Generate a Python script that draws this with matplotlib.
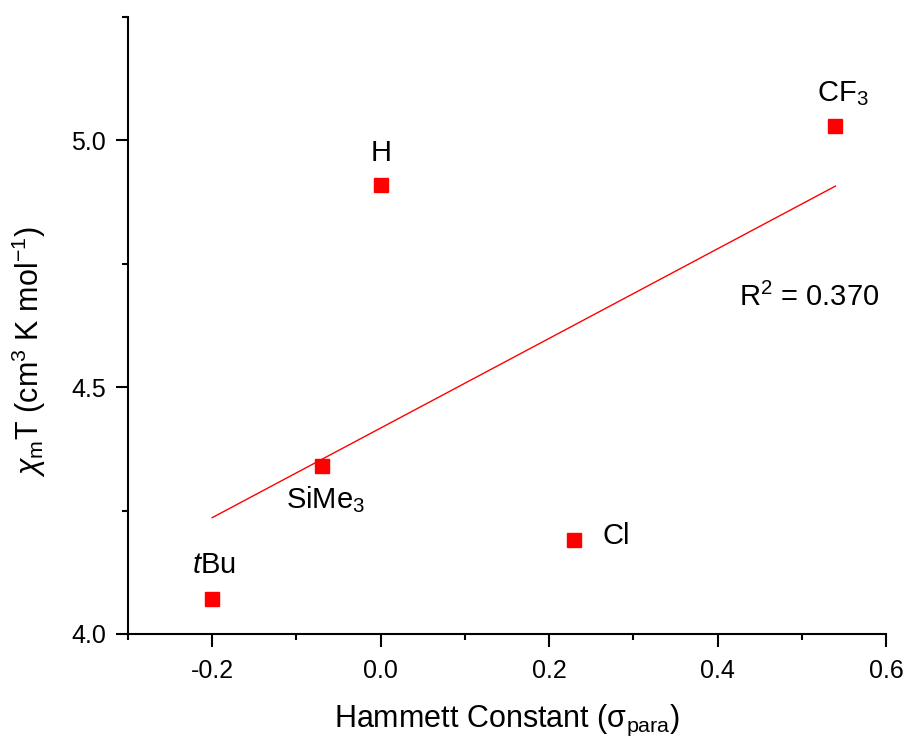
import matplotlib
matplotlib.use("Agg")
import matplotlib.pyplot as plt
import numpy as np
from matplotlib.ticker import MultipleLocator

plt.rcParams['font.family'] = ['Liberation Sans', 'DejaVu Sans']
plt.rcParams['mathtext.fontset'] = 'custom'
plt.rcParams['mathtext.rm'] = 'Liberation Sans'
plt.rcParams['mathtext.it'] = 'Liberation Sans:italic'

# Hammett sigma_para constants and chi_m*T values per substituent
substituents = ['$t$Bu', 'SiMe$_3$', 'H', 'Cl', 'CF$_3$']
sigma_para = [-0.20, -0.07, 0.00, 0.23, 0.54]
chiT = [4.07, 4.34, 4.91, 4.19, 5.03]

# label offsets in points
label_offsets = [(1, 25), (3, -24), (0, 23), (30, 3), (5, 23)]

fig = plt.figure(figsize=(9.09, 7.42), dpi=100)
ax = fig.add_axes([0.1408, 0.1456, 0.8339, 0.8315])

ax.plot(sigma_para, chiT, 's', color='#ff0000', markersize=9.5, zorder=3)

# linear fit
slope, intercept = np.polyfit(sigma_para, chiT, 1)
xfit = np.array([min(sigma_para), max(sigma_para)])
ax.plot(xfit, slope * xfit + intercept, '-', color='#ff0000', lw=1.0)
pred = slope * np.array(sigma_para) + intercept
ss_res = np.sum((np.array(chiT) - pred) ** 2)
ss_tot = np.sum((np.array(chiT) - np.mean(chiT)) ** 2)
r2 = 1 - ss_res / ss_tot

for name, x, y, off in zip(substituents, sigma_para, chiT, label_offsets):
    ax.annotate(name, (x, y), xytext=off, textcoords='offset points',
                ha='center', va='center', fontsize=21)

ax.text(0.425, 4.682, '$\\mathrm{R}^2$ = %.3f' % r2, fontsize=21,
        ha='left', va='center')

ax.set_xlim(-0.3, 0.6)
ax.set_ylim(4.0, 5.25)
ax.xaxis.set_minor_locator(MultipleLocator(0.1))
ax.yaxis.set_major_locator(MultipleLocator(0.5))
ax.yaxis.set_minor_locator(MultipleLocator(0.25))
ax.set_xticks([-0.2, 0.0, 0.2, 0.4, 0.6])
ax.set_xticklabels(['-0.2', '0.0', '0.2', '0.4', '0.6'])

for side in ['top', 'right']:
    ax.spines[side].set_visible(False)
for side in ['left', 'bottom']:
    ax.spines[side].set_linewidth(1.5)

ax.tick_params(which='major', direction='out', length=9, width=1.5,
               labelsize=18)
ax.tick_params(which='minor', direction='out', length=4.5, width=1.5)
ax.tick_params(axis='x', which='major', pad=9)
ax.tick_params(axis='y', which='major', pad=7)

ax.set_xlabel('Hammett Constant (σ$_{\\mathrm{para}}$)', fontsize=22, labelpad=14)
ax.set_ylabel('$\\chi_{\\mathrm{m}}$T (cm$^3$ K mol$^{-1}$)', fontsize=22)
ax.yaxis.set_label_coords(-0.105, 0.457)

fig.savefig('out.png', dpi=100)
